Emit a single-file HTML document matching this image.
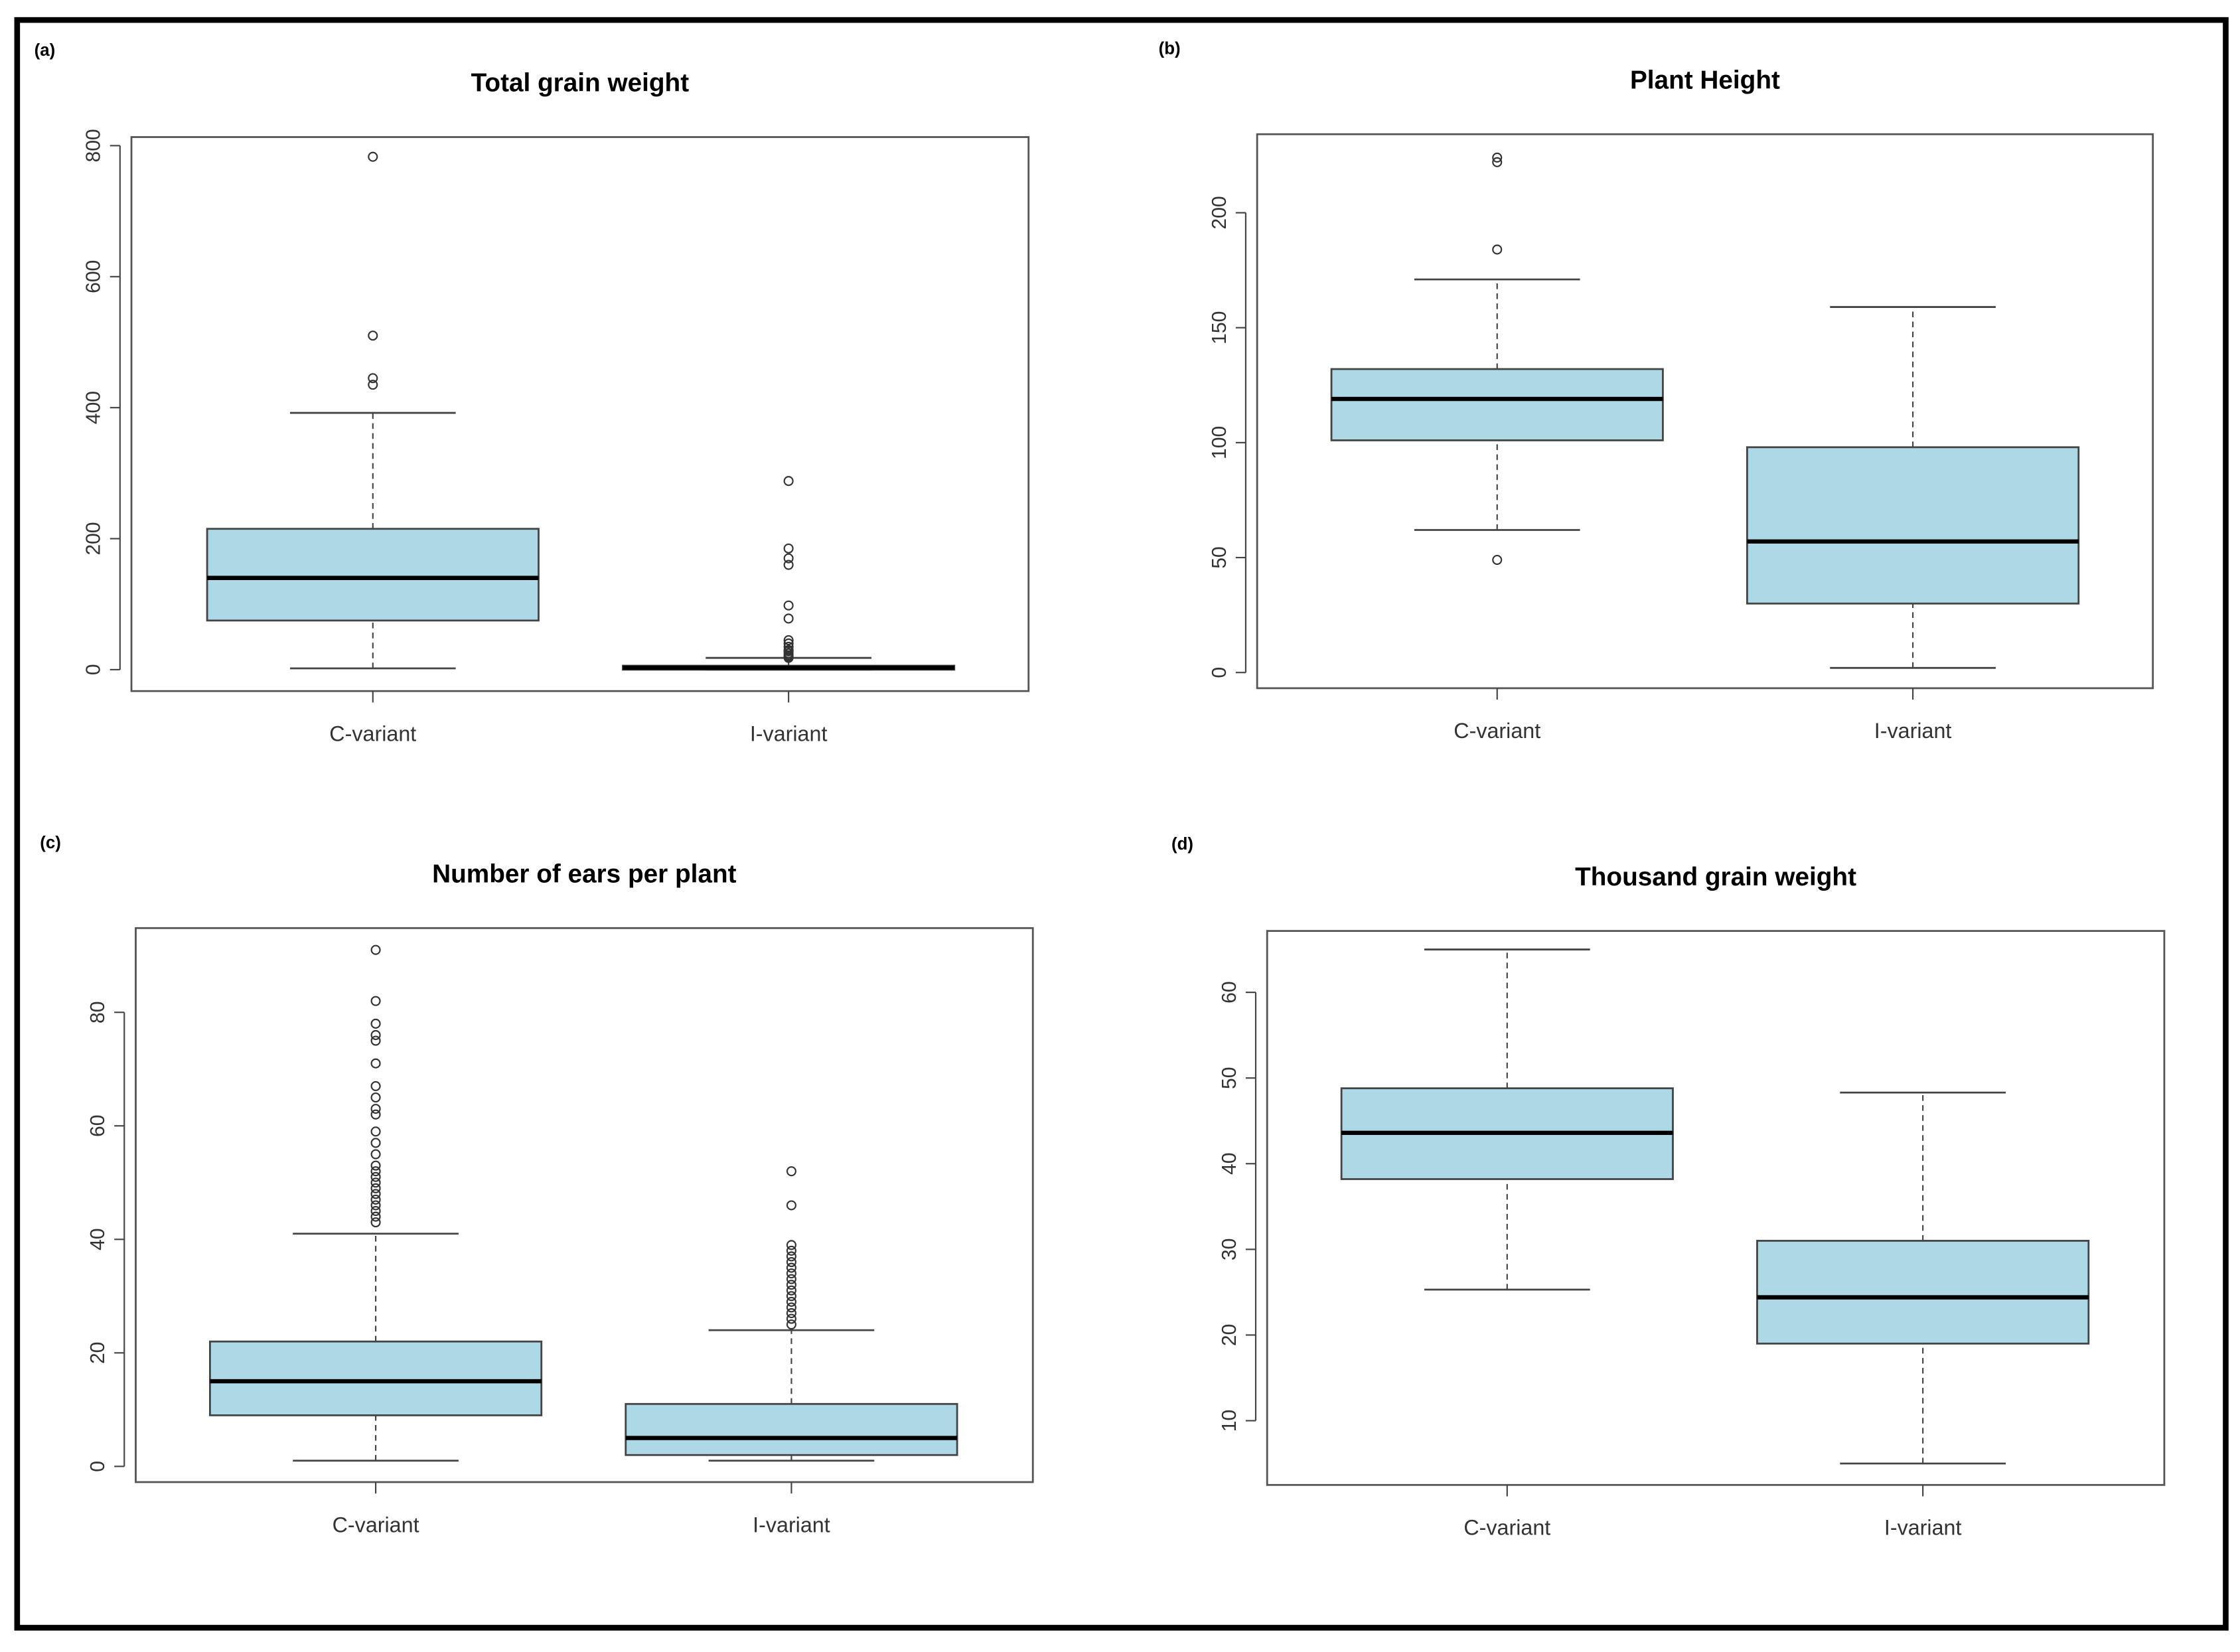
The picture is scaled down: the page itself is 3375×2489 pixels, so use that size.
<!DOCTYPE html>
<html><head><meta charset="utf-8"><style>
html,body{margin:0;padding:0;background:#fff;}
svg{display:block;}
</style></head><body>
<svg id="fig" width="3375" height="2489" viewBox="0 0 1568 1157" preserveAspectRatio="none" xmlns="http://www.w3.org/2000/svg" font-family="Liberation Sans, Arial, sans-serif">
<rect x="0" y="0" width="1568" height="1157" fill="#fff"/>
<rect x="12" y="14" width="1546" height="1126" fill="none" stroke="#000" stroke-width="4"/>
</svg>
<script>
// Panel (a) Total grain weight
const aCats = ["C-variant","I-variant"];
const aStats = [[2,75,140,215,392],[0,0,3,6,18]];
const aOut = [[783,510,445,435],[288,185,170,160,98,78,45,40,35,30,28,25,22,20,18]];
const aTicks = [0,200,400,600,800];
// Panel (b) Plant Height
const bCats = ["C-variant","I-variant"];
const bStats = [[62,101,119,132,171],[2,30,57,98,159]];
const bOut = [[224,222,184,49],[]];
const bTicks = [0,50,100,150,200];
// Panel (c) Number of ears per plant
const cCats = ["C-variant","I-variant"];
const cStats = [[1,9,15,22,41],[1,2,5,11,24]];
const cOut = [[91,82,78,76,75,71,67,65,63,62,59,57,55,53,52,51,50,49,48,47,46,45,44,43],[52,46,39,38,37,36,35,34,33,32,31,30,29,28,27,26,25]];
const cTicks = [0,20,40,60,80];
// Panel (d) Thousand grain weight
const dCats = ["C-variant","I-variant"];
const dStats = [[25.3,38.2,43.6,48.8,65],[5,19,24.4,31,48.3]];
const dOut = [[],[]];
const dTicks = [10,20,30,40,50,60];

const NS="http://www.w3.org/2000/svg";
const svg=document.getElementById('fig');
function mk(tag,attrs,parent){const e=document.createElementNS(NS,tag);for(const k in attrs)e.setAttribute(k,attrs[k]);(parent||svg).appendChild(e);return e;}

function panel(cfg){
  const g=mk('g',{});
  
  
  const L=cfg.box[0],T=cfg.box[1],R=cfg.box[2],B=cfg.box[3];
  // y scale: v0->y0, v1->y1
  const y=v=>cfg.y0+(v-cfg.v0)*(cfg.y1-cfg.y0)/(cfg.v1-cfg.v0);
  const n=cfg.cats.length;
  const step=(R-L)/(n+0.0);
  const x=i=>cfg.xc[0]+i*(cfg.xc[1]-cfg.xc[0]);
  const lab=mk('text',{x:cfg.lab[0],y:cfg.lab[1],'font-size':12,'font-weight':'bold',fill:'#000'},g);
  lab.textContent=cfg.letter;
  
  
  const t=mk('text',{x:(L+R)/2,y:cfg.titleY,'font-size':18,'font-weight':'bold','text-anchor':'middle',fill:'#000'},g);
  t.textContent=cfg.title;
  
  
  const fr=mk('rect',{x:L,y:T,width:R-L,height:B-T,fill:'none',stroke:'#555','stroke-width':1.3},g);
  
  
  const ymin=y(cfg.ticks[0]),ymax=y(cfg.ticks[cfg.ticks.length-1]);
  const ax=mk('line',{x1:L-8,x2:L-8,y1:ymin,y2:ymax,stroke:'#444','stroke-width':1},g);
  
  
  cfg.ticks.forEach(v=>{
    const yy=y(v);
    const tk=mk('line',{x1:L-15,x2:L-8,y1:yy,y2:yy,stroke:'#444','stroke-width':1},g);
    
    
    const tl=mk('text',{x:0,y:0,'font-size':14,fill:'#333','text-anchor':'middle',transform:`translate(${L-22},${yy}) rotate(-90)`},g);
    tl.textContent=v;
    
    
  });
  const hw=cfg.hw;
  cfg.cats.forEach((c,i)=>{
    const cx=x(i),s=cfg.stats[i];
    const bg=mk('g',{},g);
    
    
    mk('line',{x1:cx,x2:cx,y1:B,y2:B+8,stroke:'#444','stroke-width':1},bg);
    mk('line',{x1:cx,x2:cx,y1:y(s[0]),y2:y(s[1]),stroke:'#444','stroke-width':1,'stroke-dasharray':'4,3'},bg);
    mk('line',{x1:cx,x2:cx,y1:y(s[3]),y2:y(s[4]),stroke:'#444','stroke-width':1,'stroke-dasharray':'4,3'},bg);
    mk('line',{x1:cx-hw/2,x2:cx+hw/2,y1:y(s[0]),y2:y(s[0]),stroke:'#444','stroke-width':1.3},bg);
    mk('line',{x1:cx-hw/2,x2:cx+hw/2,y1:y(s[4]),y2:y(s[4]),stroke:'#444','stroke-width':1.3},bg);
    const h=Math.max(y(s[1])-y(s[3]),1);
    mk('rect',{x:cx-hw,y:y(s[3]),width:2*hw,height:h,fill:'#add8e6',stroke:'#444','stroke-width':1.3},bg);
    mk('line',{x1:cx-hw,x2:cx+hw,y1:y(s[2]),y2:y(s[2]),stroke:'#000','stroke-width':3},bg);
    cfg.out[i].forEach(v=>{
      const o=mk('circle',{cx:cx,cy:y(v),r:3,fill:'none',stroke:'#333','stroke-width':1},g);
      
      
    });
    const xl=mk('text',{x:cx,y:cfg.xlabY,'font-size':15,fill:'#333','text-anchor':'middle'},g);
    xl.textContent=c;
    
    
  });
}
panel({name:'panel-a-total-grain-weight',letter:'(a)',lab:[24,39],title:'Total grain weight',titleY:64,box:[92,96,720,484],v0:0,y0:469,v1:800,y1:102,xc:[261,552],hw:116,cats:aCats,stats:aStats,out:aOut,ticks:aTicks,xlabY:519});
panel({name:'panel-b-plant-height',letter:'(b)',lab:[811,38],title:'Plant Height',titleY:62,box:[880,94,1507,482],v0:0,y0:471,v1:200,y1:149,xc:[1048,1339],hw:116,cats:bCats,stats:bStats,out:bOut,ticks:bTicks,xlabY:517});
panel({name:'panel-c-ears-per-plant',letter:'(c)',lab:[28,594],title:'Number of ears per plant',titleY:618,box:[95,650,723,1038],v0:0,y0:1027,v1:80,y1:709,xc:[263,554],hw:116,cats:cCats,stats:cStats,out:cOut,ticks:cTicks,xlabY:1073});
panel({name:'panel-d-thousand-grain-weight',letter:'(d)',lab:[820,595],title:'Thousand grain weight',titleY:620,box:[887,652,1515,1040],v0:10,y0:995,v1:60,y1:695,xc:[1055,1346],hw:116,cats:dCats,stats:dStats,out:dOut,ticks:dTicks,xlabY:1075});
</script>
</body></html>
